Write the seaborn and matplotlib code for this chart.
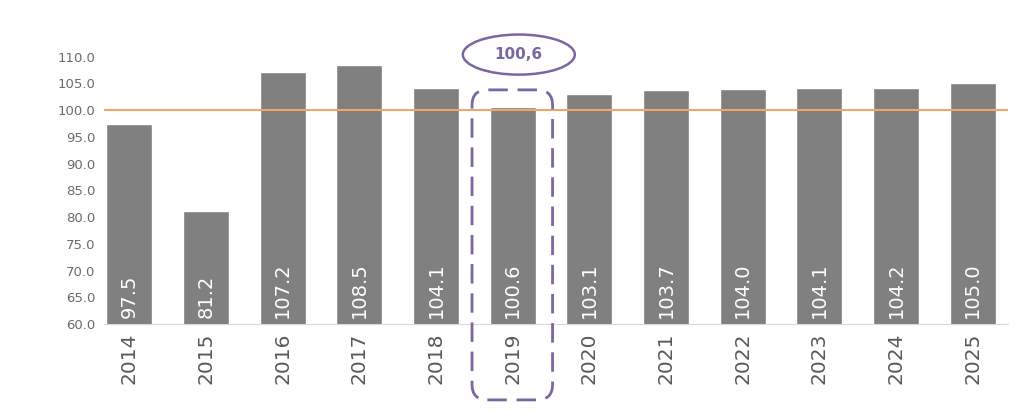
import pandas as pd
import matplotlib.pyplot as plt
import seaborn as sns
from matplotlib.patches import Ellipse, FancyBboxPatch

# -----------------------------
# Data
# -----------------------------
years = ['2014', '2015', '2016', '2017', '2018', '2019',
         '2020', '2021', '2022', '2023', '2024', '2025']
values = [97.5, 81.2, 107.2, 108.5, 104.1, 100.6,
          103.1, 103.7, 104.0, 104.1, 104.2, 105.0]
highlight_year = '2019'
highlight_label = '100,6'
reference_level = 100.0

df = pd.DataFrame({'year': years, 'value': values})

# -----------------------------
# Plot
# -----------------------------
sns.set_style('white')
plt.rcParams['font.family'] = ['DejaVu Sans']

fig = plt.figure(figsize=(10.23, 4.17), dpi=100)
ax = fig.add_axes([104 / 1023, 93 / 417, 904 / 1023, 294 / 417])

sns.barplot(data=df, x='year', y='value', color='#808080', width=0.6,
            saturation=1, ax=ax)

ax.set_ylim(60, 115)
ax.set_xlim(-0.33, 11.46)
ax.set_yticks([60, 65, 70, 75, 80, 85, 90, 95, 100, 105, 110])
ax.set_yticklabels([f'{t:.1f}' for t in ax.get_yticks()], fontsize=9.5, color='#6b6b6b')
ax.set_xticks(range(len(years)))
ax.set_xticklabels(years, rotation=90, fontsize=14.5, color='#595959')
ax.tick_params(axis='both', length=0, pad=6)
ax.set_xlabel('')
ax.set_ylabel('')

for s in ['top', 'right', 'left']:
    ax.spines[s].set_visible(False)
ax.spines['bottom'].set_color('#d9d9d9')

# value labels inside bars
for i, v in enumerate(values):
    ax.text(i, 61.2, f'{v:.1f}', rotation=90, ha='center', va='bottom',
            color='white', fontsize=14)

# reference line
ax.axhline(reference_level, color='#F0A56E', linewidth=1.5, zorder=3)

# highlight box around 2019
hi = years.index(highlight_year)
aspect = (ax.transData.transform((0, 1))[1] - ax.transData.transform((0, 0))[1]) / \
         (ax.transData.transform((1, 0))[0] - ax.transData.transform((0, 0))[0])
box = FancyBboxPatch((hi - 0.53, 45.8), 1.05, 58.0,
                     boxstyle='round,pad=0,rounding_size=0.2',
                     mutation_aspect=1 / aspect,
                     fill=False, edgecolor='#7B65A3', linewidth=2,
                     linestyle=(0, (7, 3.5)), clip_on=False, zorder=4)
ax.add_patch(box)

ell = Ellipse((hi + 0.08, 110.4), 1.46, 7.5, fill=False,
              edgecolor='#7B65A3', linewidth=1.8, clip_on=False, zorder=4)
ax.add_patch(ell)
ax.text(hi + 0.08, 110.4, highlight_label, ha='center', va='center',
        fontsize=11, fontweight='bold', color='#7B65A3')

plt.savefig('out.png', dpi=100)
